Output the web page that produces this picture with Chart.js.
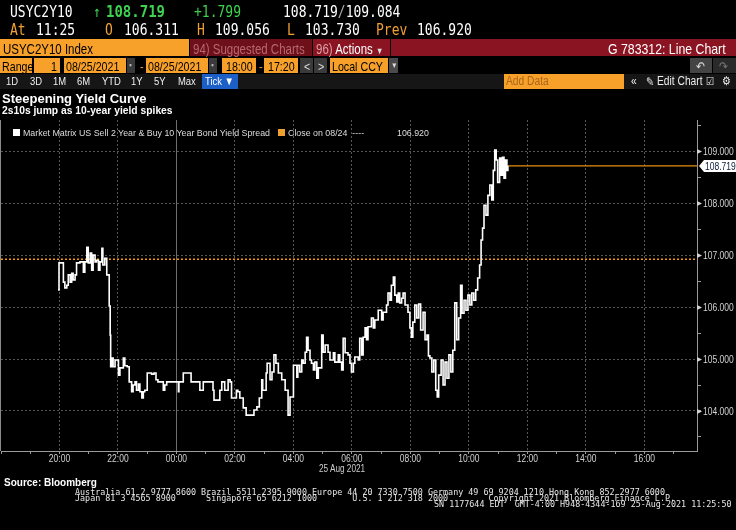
<!DOCTYPE html>
<html>
<head>
<meta charset="utf-8">
<title>USYC2Y10 Index</title>
<script src="https://cdn.jsdelivr.net/npm/chart.js@4.4.4/dist/chart.umd.min.js"></script>
<style>
  html, body { margin: 0; padding: 0; background: #000; }
  body { width: 736px; height: 530px; position: relative; overflow: hidden; color: #fff;
         font-family: "Liberation Sans", Arial, sans-serif; }
  #chart { position: absolute; left: 0; top: 0; }
  .t { position: absolute; white-space: pre; line-height: 1; }
  .cn { position: absolute; white-space: pre; line-height: 1; transform: scaleX(0.82); transform-origin: 0 0; }
  .mono { font-family: "DejaVu Sans Mono", monospace; font-size: 13px; transform: scaleY(1.18); transform-origin: 0 0; }
  .amb { color: #f0a030; }
  .grn { color: #3fd14f; }
  .bg { position: absolute; }
  .org { background: #f7a02a; }
  .red { background: #8a1422; }
  .gry { background: #3a3a3a; }
  .r3 { top: 41.5px; font-size: 14px; }
  .r4 { top: 60px; font-size: 13px; color: #000; }
  .r5 { top: 75.5px; font-size: 11.5px; color: #eee; }
  .foot { font-family: "DejaVu Sans Mono", monospace; font-size: 8.4px; color: #e6e6e6; line-height: 1; }
</style>
</head>
<body>
<canvas id="chart" width="736" height="530"></canvas>

<!-- quote line -->
<div class="t mono" style="left:10px;top:4px">USYC2Y10</div>
<div class="t mono grn" style="left:93px;top:4px">↑</div>
<div class="t mono grn" style="left:106px;top:3px;font-weight:bold;font-size:14px">108.719</div>
<div class="t mono grn" style="left:194px;top:4px">+1.799</div>
<div class="t mono" style="left:283px;top:4px">108.719<span style="color:#aaa">/</span>109.084</div>
<div class="t mono amb" style="left:10px;top:22px">At</div>
<div class="t mono" style="left:36px;top:22px">11:25</div>
<div class="t mono amb" style="left:105px;top:22px">O</div>
<div class="t mono" style="left:124px;top:22px">106.311</div>
<div class="t mono amb" style="left:197px;top:22px">H</div>
<div class="t mono" style="left:215px;top:22px">109.056</div>
<div class="t mono amb" style="left:287px;top:22px">L</div>
<div class="t mono" style="left:305px;top:22px">103.730</div>
<div class="t mono amb" style="left:376px;top:22px">Prev</div>
<div class="t mono" style="left:417px;top:22px">106.920</div>

<!-- command bar -->
<div class="bg org" style="left:0;top:39px;width:189px;height:17px"></div>
<div class="bg" style="left:190px;top:39px;width:122px;height:17px;background:#6e1019"></div>
<div class="bg red" style="left:313px;top:39px;width:77px;height:17px"></div>
<div class="bg red" style="left:391px;top:39px;width:345px;height:17px"></div>
<div class="cn r3" style="left:3px;color:#000">USYC2Y10 Index</div>
<div class="cn r3" style="left:193px;color:#b56870">94) Suggested Charts</div>
<div class="cn r3" style="left:316px"><span style="color:#dba0a6">96)</span> Actions <span style="font-size:9px;color:#ddd">▼</span></div>
<div class="cn r3" style="left:608px;font-size:15px;top:40.5px">G 783312: Line Chart</div>

<!-- range row -->
<div class="bg org" style="left:0;top:58px;width:32px;height:15px"></div>
<div class="bg org" style="left:34px;top:58px;width:26px;height:15px"></div>
<div class="bg org" style="left:64px;top:58px;width:62px;height:15px"></div>
<div class="bg gry" style="left:127px;top:58px;width:8px;height:15px"></div>
<div class="bg org" style="left:146px;top:58px;width:62px;height:15px"></div>
<div class="bg gry" style="left:209px;top:58px;width:8px;height:15px"></div>
<div class="bg org" style="left:222px;top:58px;width:34px;height:15px"></div>
<div class="bg org" style="left:264px;top:58px;width:34px;height:15px"></div>
<div class="bg gry" style="left:300px;top:58px;width:13px;height:15px"></div>
<div class="bg gry" style="left:314px;top:58px;width:13px;height:15px"></div>
<div class="bg org" style="left:330px;top:58px;width:58px;height:15px"></div>
<div class="bg" style="left:389px;top:58px;width:9px;height:15px;background:#4a4a4a"></div>
<div class="bg" style="left:690px;top:58px;width:22px;height:15px;background:#444"></div>
<div class="bg" style="left:713px;top:58px;width:23px;height:15px;background:#2a2a2a"></div>
<div class="cn r4" style="left:2px">Range</div>
<div class="cn r4" style="left:51px">1</div>
<div class="cn r4" style="left:66px">08/25/2021</div>
<div class="cn r4" style="left:129px;color:#bbb;font-size:9px;top:61px">▪</div>
<div class="cn r4" style="left:140px;color:#f0a030">-</div>
<div class="cn r4" style="left:148px">08/25/2021</div>
<div class="cn r4" style="left:211px;color:#bbb;font-size:9px;top:61px">▪</div>
<div class="cn r4" style="left:226px">18:00</div>
<div class="cn r4" style="left:259px;color:#f0a030">-</div>
<div class="cn r4" style="left:268px">17:20</div>
<div class="cn r4" style="left:304px;color:#ddd">&lt;</div>
<div class="cn r4" style="left:318px;color:#ddd">&gt;</div>
<div class="cn r4" style="left:332px">Local CCY</div>
<div class="cn r4" style="left:391px;color:#ddd;font-size:8px;top:62px">▼</div>
<div class="cn r4" style="left:696px;color:#ddd">↶</div>
<div class="cn r4" style="left:719px;color:#777">↷</div>

<!-- period row -->
<div class="bg" style="left:0;top:74px;width:736px;height:15px;background:#161616"></div>
<div class="bg" style="left:202px;top:74px;width:36px;height:15px;background:#1b5fc7"></div>
<div class="bg org" style="left:504px;top:74px;width:120px;height:15px"></div>
<div class="cn r5" style="left:6px">1D</div>
<div class="cn r5" style="left:30px">3D</div>
<div class="cn r5" style="left:53px">1M</div>
<div class="cn r5" style="left:77px">6M</div>
<div class="cn r5" style="left:102px">YTD</div>
<div class="cn r5" style="left:131px">1Y</div>
<div class="cn r5" style="left:154px">5Y</div>
<div class="cn r5" style="left:178px">Max</div>
<div class="cn r5" style="left:205px;color:#fff">Tick ▼</div>
<div class="cn r5" style="left:506px;color:#a9661a;font-size:12.5px;top:75px">Add Data</div>
<div class="cn r5" style="left:631px;font-size:12.5px;top:75px">«</div>
<div class="cn r5" style="left:646px;font-size:12px;top:75.5px">✎</div>
<div class="cn r5" style="left:657px;font-size:12.5px;top:75px">Edit Chart</div>
<div class="cn r5" style="left:706px;font-size:11px;top:76px">☑</div>
<div class="cn r5" style="left:722px;font-size:12px;top:75px">⚙</div>

<!-- titles and legend -->
<div class="t" style="left:2px;top:92.3px;font-weight:bold;font-size:13px">Steepening Yield Curve</div>
<div class="t" style="left:2px;top:106.3px;font-weight:bold;font-size:10.3px">2s10s jump as 10-year yield spikes</div>
<div class="bg" style="left:13px;top:129px;width:7px;height:7px;background:#fff"></div>
<div class="cn" style="left:23px;top:128px;font-size:9.5px;color:#ddd;transform:scaleX(0.93)">Market Matrix US Sell 2 Year &amp; Buy 10 Year Bond Yield Spread</div>
<div class="bg" style="left:278px;top:129px;width:7px;height:7px;background:#f0a030"></div>
<div class="cn" style="left:288px;top:128px;font-size:9.5px;color:#ddd;transform:scaleX(0.93)">Close on 08/24  ----</div>
<div class="cn" style="left:397px;top:128px;font-size:9.5px;color:#ddd;transform:scaleX(0.93)">106.920</div>

<!-- axis caption, source, footer -->
<div class="cn" style="left:319px;top:463.5px;font-size:10px;color:#ccc">25 Aug 2021</div>
<div class="t" style="left:4px;top:477.5px;font-weight:bold;font-size:10px">Source: Bloomberg</div>
<div class="t foot" style="left:75px;top:488px">Australia 61 2 9777 8600 Brazil 5511 2395 9000 Europe 44 20 7330 7500 Germany 49 69 9204 1210 Hong Kong 852 2977 6000</div>
<div class="t foot" style="left:75px;top:494px">Japan 81 3 4565 8900      Singapore 65 6212 1000       U.S. 1 212 318 2000        Copyright 2021 Bloomberg Finance L.P.</div>
<div class="t foot" style="left:434px;top:500px">SN 1177644 EDT  GMT-4:00 H948-4344-169 25-Aug-2021 11:25:50</div>

<script>
// tick data, 25 Aug 2021 session (times local, session opens 18:00 the day before)
const times = [
  "19:57","19:59","20:04","20:08","20:11","20:15","20:18","20:22","20:25","20:28",
  "20:32","20:35","20:42","20:49","20:52","20:56","20:59","21:03","21:06","21:09",
  "21:13","21:16","21:20","21:23","21:27","21:29","21:33","21:37","21:40","21:42",
  "21:44","21:45","21:47","21:50","21:54","21:57","22:01","22:04","22:08","22:11",
  "22:14","22:19","22:23","22:28","22:31","22:35","22:38","22:42","22:45","22:49",
  "22:52","22:55","23:00","23:06","23:09","23:14","23:18","23:22","23:30","23:33",
  "23:36","23:40","23:47","23:59","00:04","00:05","00:14","00:22","00:30","00:38",
  "00:48","00:52","00:55","01:05","01:15","01:17","01:23","01:29","01:33","01:35",
  "01:39","01:46","01:50","01:53","01:58","02:03","02:06","02:10","02:17","02:23",
  "02:29","02:34","02:39","02:45","02:50","02:55","02:57","03:04","03:06","03:12",
  "03:16","03:20","03:24","03:29","03:36","03:43","03:49","03:53","04:00","04:07",
  "04:09","04:13","04:17","04:20","04:24","04:27","04:30","04:34","04:37","04:41",
  "04:44","04:48","04:51","04:58","05:01","05:05","05:11","05:15","05:22","05:25",
  "05:32","05:35","05:39","05:42","05:46","05:52","05:56","05:59","06:03","06:06",
  "06:13","06:16","06:20","06:23","06:27","06:30","06:33","06:40","06:44","06:47",
  "06:54","07:01","07:04","07:11","07:14","07:18","07:21","07:25","07:28","07:32",
  "07:35","07:38","07:42","07:45","07:49","07:55","07:59","08:02","08:05","08:09",
  "08:13","08:17","08:21","08:26","08:30","08:34","08:37","08:40","08:44","08:48",
  "08:52","08:55","08:58","09:03","09:07","09:11","09:15","09:19","09:23","09:27",
  "09:31","09:35","09:39","09:43","09:46","09:50","09:54","09:58","10:02","10:06",
  "10:10","10:14","10:18","10:22","10:25","10:28","10:31","10:35","10:39","10:43",
  "10:47","10:50","10:53","10:56","10:59","11:03","11:06","11:09","11:12","11:15",
  "11:18","11:20"
];
const spread = [
  106.33,106.85,106.85,106.48,106.37,106.42,106.62,106.48,106.65,106.52,
  106.62,106.85,106.87,106.67,106.87,107.15,106.85,107.04,106.71,107.00,
  106.87,106.90,106.71,106.87,107.13,106.81,106.94,106.62,106.62,106.02,
  105.46,104.85,105.02,104.85,104.98,104.98,104.69,104.83,104.83,105.02,
  104.87,104.85,104.56,104.37,104.50,104.56,104.40,104.52,104.37,104.25,
  104.37,104.40,104.73,104.73,104.71,104.73,104.60,104.56,104.56,104.40,
  104.50,104.56,104.56,104.56,104.37,104.56,104.73,104.73,104.56,104.56,
  104.40,104.40,104.56,104.56,104.40,104.21,104.21,104.40,104.56,104.56,
  104.40,104.60,104.56,104.25,104.25,104.40,104.37,104.25,104.06,103.92,
  103.92,103.92,104.02,104.08,104.25,104.60,104.40,104.73,104.92,104.60,
  104.75,105.08,104.92,104.73,104.60,104.40,103.92,104.27,104.88,104.65,
  104.88,104.75,104.98,104.92,105.13,105.42,105.17,104.98,104.92,104.79,
  104.94,104.63,104.83,105.46,105.13,105.27,105.13,104.98,105.12,104.94,
  105.08,104.94,104.79,105.40,105.12,105.08,104.92,104.75,104.92,105.04,
  104.98,105.40,105.08,105.42,105.60,105.37,105.62,105.79,105.60,105.75,
  105.94,105.75,105.90,106.04,106.27,106.13,106.42,106.58,106.23,106.10,
  106.27,106.08,106.17,106.27,106.04,105.90,105.60,105.42,105.71,106.04,
  105.79,106.06,105.56,105.90,105.37,105.46,105.06,105.02,104.75,104.98,
  104.40,104.27,104.69,104.98,104.50,104.94,104.63,105.08,104.75,105.17,
  106.08,105.37,105.79,106.42,105.88,106.13,105.94,106.23,106.04,106.27,
  106.13,106.33,106.56,106.81,107.29,107.52,107.96,107.77,108.15,108.35,
  108.06,108.63,109.02,108.83,108.40,108.87,108.54,108.88,108.48,108.83,
  108.63,108.719
];
const prevClose = 106.920;
const lastValue = 108.719;
const sessionStart = "18:00";
const dayBreak = "00:00";
const axisEnd = "17:48";
const yMin = 103.23;
const yMax = 109.6;

// minutes elapsed since the 18:00 session open
function toMinutes(hhmm) {
    const [h, m] = hhmm.split(":").map(Number);
    let t = h * 60 + m - 18 * 60;
    if (t < 0) {
        t += 24 * 60;
    }
    return t;
}

function toClock(minutes) {
    const t = (minutes + 18 * 60) % (24 * 60);
    const h = Math.floor(t / 60);
    const m = t % 60;
    return `${String(h).padStart(2, "0")}:${String(m).padStart(2, "0")}`;
}

const xMin = toMinutes(sessionStart);
const xMax = toMinutes(axisEnd);
const xBreak = toMinutes(dayBreak);
const points = times.map((s, i) => ({ x: toMinutes(s), y: spread[i] }));
const lastX = toMinutes(times[times.length - 1]);

const gridGrey = "#555";
const tickGrey = "#9a9a9a";
const labelGrey = "#d2d2d2";
const labelFont = "10px 'Liberation Sans', Arial, sans-serif";
const squeeze = 0.85;

function isHourLabel(value) {
    return value % 120 === 0 && value > 0;
}

// frame line, narrow axis labels and the last-price tag
const frame = {
    id: "frame",
    beforeDatasetsDraw(chart) {
        const { ctx, chartArea } = chart;
        ctx.save();
        ctx.strokeStyle = "#8a8a8a";
        ctx.lineWidth = 1;
        ctx.beginPath();
        ctx.moveTo(chartArea.left - 0.5, chartArea.top);
        ctx.lineTo(chartArea.left - 0.5, chartArea.bottom);
        ctx.stroke();
        ctx.restore();
    },
    afterDraw(chart) {
        const { ctx, chartArea, scales } = chart;
        const { x, y } = scales;
        ctx.save();
        ctx.font = labelFont;
        ctx.fillStyle = labelGrey;

        ctx.textAlign = "center";
        ctx.textBaseline = "alphabetic";
        x.ticks.forEach(tick => {
            if (!isHourLabel(tick.value)) {
                return;
            }
            ctx.save();
            ctx.translate(x.getPixelForValue(tick.value), chartArea.bottom + 11);
            ctx.scale(squeeze, 1);
            ctx.fillText(toClock(tick.value), 0, 0);
            ctx.restore();
        });

        ctx.textAlign = "left";
        ctx.textBaseline = "middle";
        y.ticks.forEach(tick => {
            if (!Number.isInteger(tick.value)) {
                return;
            }
            const py = Math.round(y.getPixelForValue(tick.value)) + 0.5;
            ctx.beginPath();
            ctx.moveTo(chartArea.right, py - 2.5);
            ctx.lineTo(chartArea.right + 5, py);
            ctx.lineTo(chartArea.right, py + 2.5);
            ctx.closePath();
            ctx.fill();
            ctx.save();
            ctx.translate(chartArea.right + 6, py + 0.5);
            ctx.scale(squeeze, 1);
            ctx.fillText(tick.value.toFixed(3), 0, 0);
            ctx.restore();
        });

        const py = Math.round(y.getPixelForValue(lastValue));
        const left = chartArea.right + 2;
        ctx.fillStyle = "#fff";
        ctx.beginPath();
        ctx.moveTo(left, py);
        ctx.lineTo(left + 5, py - 6);
        ctx.lineTo(chart.width, py - 6);
        ctx.lineTo(chart.width, py + 6);
        ctx.lineTo(left + 5, py + 6);
        ctx.closePath();
        ctx.fill();
        ctx.fillStyle = "#0a1a3a";
        ctx.translate(left + 6, py + 1);
        ctx.scale(squeeze, 1);
        ctx.fillText(lastValue.toFixed(3), 0, 0);
        ctx.restore();
    }
};

new Chart(document.getElementById("chart"), {
    type: "line",
    data: {
        datasets: [
            {
                label: "Market Matrix US Sell 2 Year & Buy 10 Year Bond Yield Spread",
                data: points,
                borderColor: "#ffffff",
                borderWidth: 1.6,
                stepped: true,
                pointRadius: 0,
                fill: false,
                order: 1
            },
            {
                label: "Close on 08/24",
                data: [{ x: xMin, y: prevClose }, { x: xMax, y: prevClose }],
                borderColor: "#f59a10",
                borderWidth: 1.5,
                borderDash: [2, 2],
                pointRadius: 0,
                order: 2
            },
            {
                label: "Last",
                data: [{ x: lastX, y: lastValue }, { x: xMax, y: lastValue }],
                borderColor: "#e88c10",
                borderWidth: 1.2,
                pointRadius: 0,
                order: 3
            }
        ]
    },
    options: {
        responsive: false,
        devicePixelRatio: 1,
        animation: false,
        layout: { padding: { top: 120, left: 1, right: 0, bottom: 40 } },
        plugins: {
            legend: { display: false },
            tooltip: { enabled: false }
        },
        scales: {
            x: {
                type: "linear",
                min: xMin,
                max: xMax,
                afterFit(scale) {
                    scale.height = 39;
                },
                ticks: {
                    display: false,
                    stepSize: 60,
                    autoSkip: false,
                    includeBounds: false,
                    maxRotation: 0
                },
                grid: {
                    color(ctx) {
                        const v = ctx.tick ? ctx.tick.value : 0;
                        if (v === xBreak) {
                            return "#6e6e6e";
                        }
                        return isHourLabel(v) ? gridGrey : "transparent";
                    },
                    tickColor: tickGrey,
                    tickLength: 3
                },
                border: {
                    color: tickGrey,
                    dash(ctx) {
                        return ctx.tick && ctx.tick.value === xBreak ? [] : [2, 2];
                    }
                }
            },
            y: {
                position: "right",
                min: yMin,
                max: yMax,
                afterFit(scale) {
                    scale.width = 39;
                },
                ticks: {
                    display: false,
                    stepSize: 0.5,
                    includeBounds: false
                },
                grid: {
                    color(ctx) {
                        return ctx.tick && Number.isInteger(ctx.tick.value) ? gridGrey : "transparent";
                    },
                    tickColor: tickGrey,
                    tickLength: 4
                },
                border: {
                    color: tickGrey,
                    dash: [2, 2]
                }
            }
        }
    },
    plugins: [frame]
});
</script>
</body>
</html>
